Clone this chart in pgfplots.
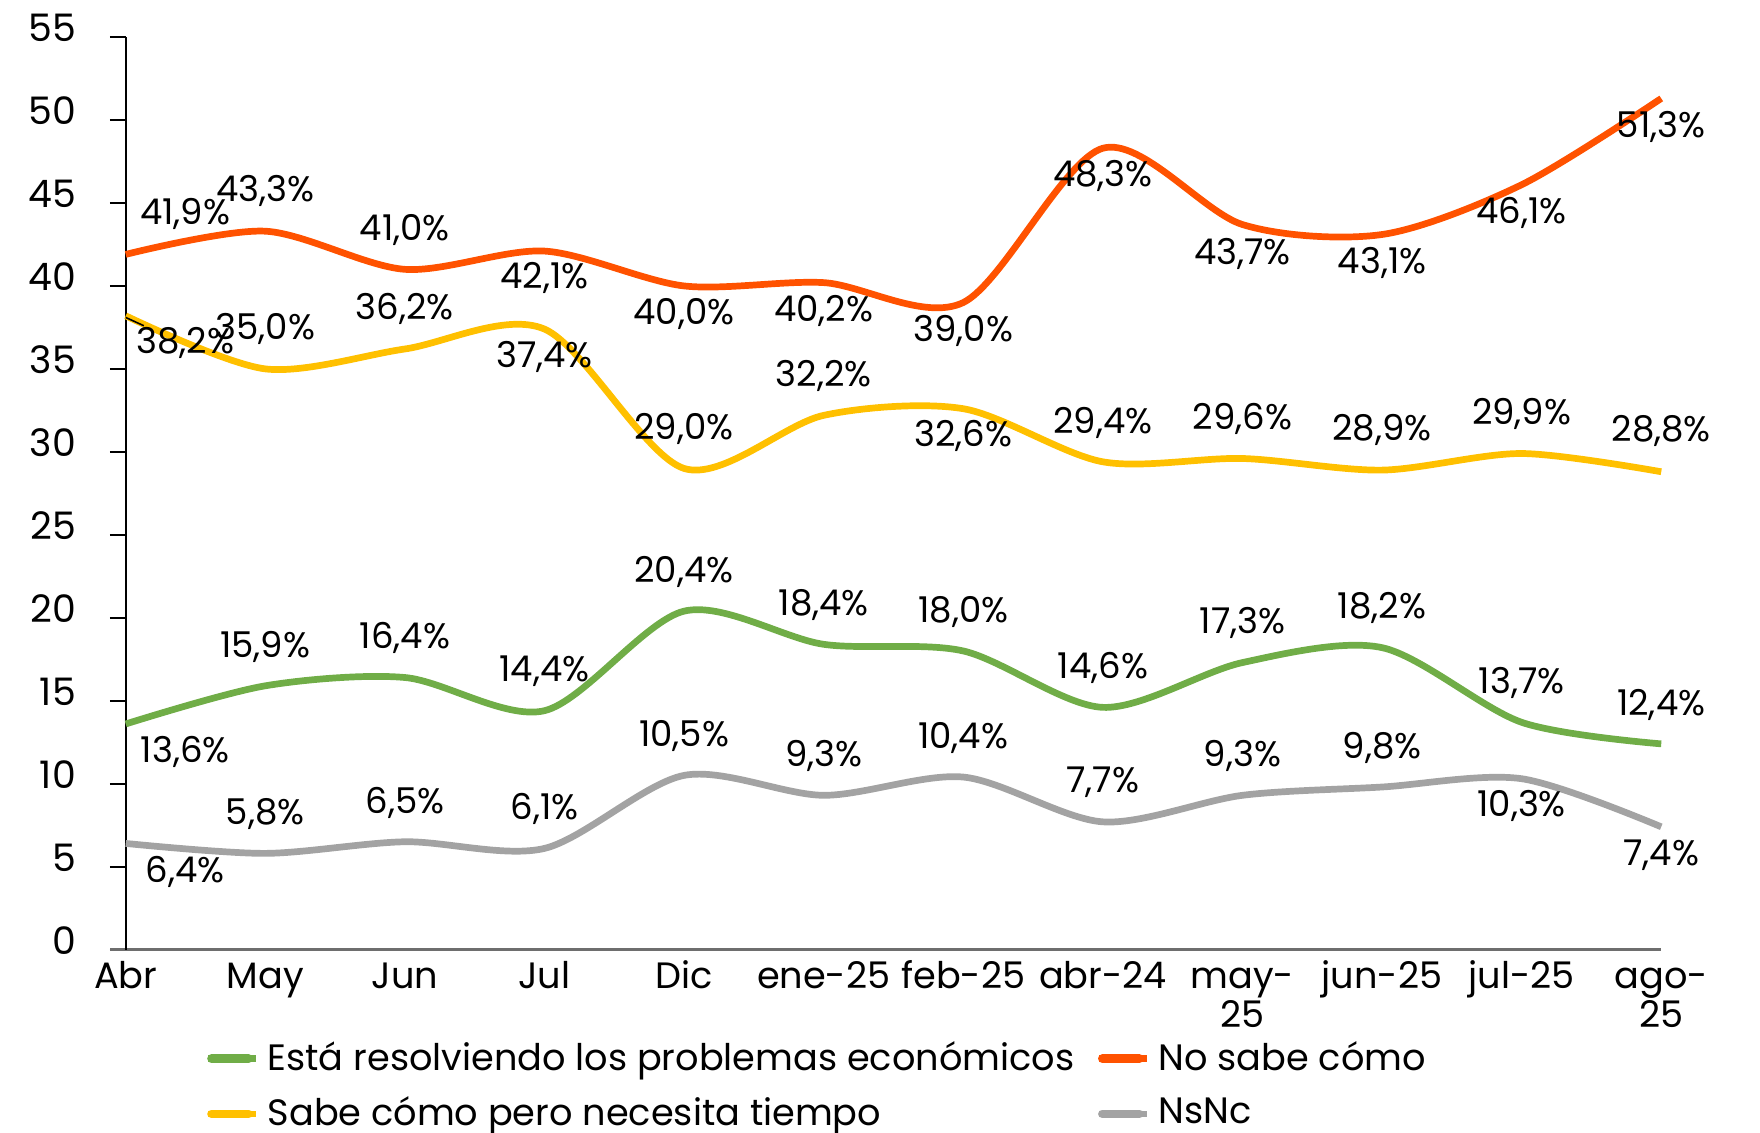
\documentclass[border=0pt]{standalone}
\usepackage{pgfplots}
\pgfplotsset{compat=1.18}
\usepackage{pgfplotstable}
\usepackage{fontspec}
\setmainfont{Poppins}
\definecolor{cgreen}{HTML}{70AD47}
\definecolor{corange}{HTML}{FF5200}
\definecolor{cyellow}{HTML}{FFC000}
\definecolor{cgrey}{HTML}{A3A3A3}
\definecolor{caxis}{HTML}{6E6E6E}

\pgfplotstableread{
x y off xo
0 13.6 -2.5 5.3
1 15.9 3.5 0
2 16.4 3.5 0
3 14.4 3.5 0
4 20.4 3.5 0
5 18.4 3.5 0
6 18.0 3.5 0
7 14.6 3.5 0
8 17.3 3.5 0
9 18.2 3.5 0
10 13.7 3.5 0
11 12.4 3.5 0
}\tgreen

\pgfplotstableread{
x y off xo
0 41.9 3.6 5.3
1 43.3 3.6 0
2 41.0 3.5 0
3 42.1 -2.4 0
4 40.0 -2.5 0
5 40.2 -2.5 0
6 39.0 -2.5 0
7 48.3 -2.5 0
8 43.7 -2.6 0
9 43.1 -2.5 0
10 46.1 -2.5 0
11 51.3 -2.5 0
}\torange

\pgfplotstableread{
x y off xo
0 38.2 -2.4 5.3
1 35.0 3.6 0
2 36.2 3.6 0
3 37.4 -2.5 0
4 29.0 3.5 0
5 32.2 3.5 0
6 32.6 -2.4 0
7 29.4 3.5 0
8 29.6 3.5 0
9 28.9 3.6 0
10 29.9 3.5 0
11 28.8 3.6 0
}\tyellow

\pgfplotstableread{
x y off xo
0 6.4 -2.5 5.3
1 5.8 3.5 0
2 6.5 3.5 0
3 6.1 3.5 0
4 10.5 3.5 0
5 9.3 3.5 0
6 10.4 3.5 0
7 7.7 3.5 0
8 9.3 3.5 0
9 9.8 3.5 0
10 10.3 -2.4 0
11 7.4 -2.5 0
}\tgrey

\pgfplotsset{
  lbl/.style={
    line width=1.7pt, smooth, tension=0.5,
    visualization depends on={\thisrow{off}\as\off},
    visualization depends on={\thisrow{xo}\as\xo},
    nodes near coords={\pgfmathprintnumber[fixed,fixed zerofill,precision=1,use comma]{\pgfplotspointmeta}\%},
    nodes near coords align={anchor=center},
    every node near coord/.append style={anchor=center, yshift=\off mm, xshift=\xo mm, text=black, font=\fontsize{9}{10}\selectfont, inner sep=0pt},
  },
}

\begin{document}
\begin{tikzpicture}
\begin{axis}[
  scale only axis,
  width=136.8mm, height=81.3mm,
  xmin=0, xmax=11, ymin=0, ymax=55,
  clip=false,
  axis x line*=bottom, axis y line*=left,
  x axis line style={-, draw=caxis, line width=0.95pt, shorten <=-1.4mm},
  y axis line style={-, draw=black, line width=0.5pt},
  xtick={0,...,11},
  xticklabels={Abr,May,Jun,Jul,Dic,ene-25,feb-25,abr-24,
    {\begin{tabular}[t]{@{}c@{}}may-\\25\end{tabular}},jun-25,jul-25,
    {\begin{tabular}[t]{@{}c@{}}ago-\\25\end{tabular}}},
  xtick style={draw=none},
  xtick align=inside,
  ytick align=outside,
  xticklabel style={anchor=base, font=\fontsize{9.3}{9.4}\selectfont, yshift=-3.5mm},
  ytick={0,5,...,55},
  ytick style={draw=black, line width=0.5pt},
  major tick length=1.4mm,
  yticklabel style={font=\fontsize{9.6}{10}\selectfont, xshift=-1.8mm, yshift=0.8mm},
  /pgf/number format/assume math mode=true,
  legend columns=2,
  legend cell align=left,
  legend style={at={(0.051,-0.091)}, anchor=north west, draw=none, fill=none,
    font=\fontsize{9.3}{10}\selectfont, inner sep=0pt, row sep=0.4mm,
    /tikz/every even column/.append style={column sep=1.2mm}},
  legend image code/.code={\draw[line width=2.2pt, line cap=round] (0.3mm,0mm) -- (3.6mm,0mm); \path (0mm,0mm) -- (4.3mm,0mm);},
]
\addplot[cgreen, lbl] table[x=x,y=y] {\tgreen};
\addlegendentry{Está resolviendo los problemas económicos}
\addplot[corange, lbl] table[x=x,y=y] {\torange};
\addlegendentry{No sabe cómo}
\addplot[cyellow, lbl] table[x=x,y=y] {\tyellow};
\addlegendentry{Sabe cómo pero necesita tiempo}
\addplot[cgrey, lbl] table[x=x,y=y] {\tgrey};
\addlegendentry{NsNc}
\addplot[black, line width=0.4pt, forget plot] coordinates {(0,38.1) (0.13,37.6)};
\end{axis}
\pgfresetboundingbox
\path[use as bounding box] ([shift={(-11.2mm,-16.3mm)}]current axis.south west) rectangle ++(156.8mm,100.9mm);
\end{tikzpicture}
\end{document}
